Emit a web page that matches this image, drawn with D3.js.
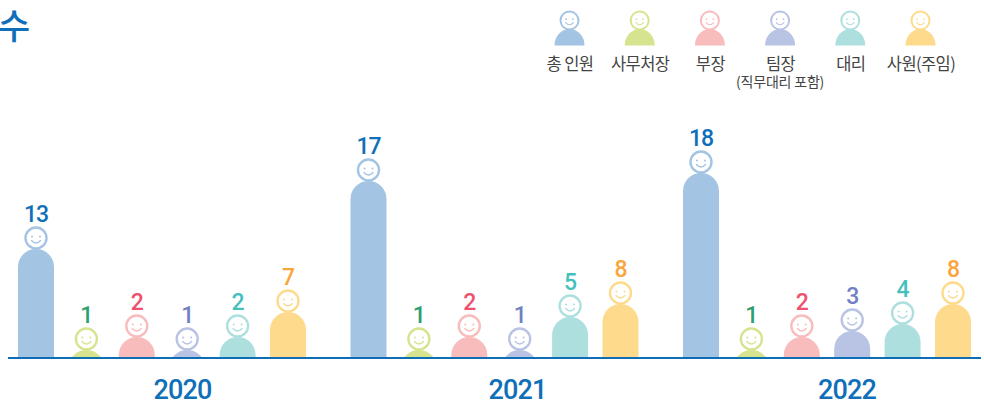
<!DOCTYPE html>
<html><head><meta charset="utf-8">
<script src="https://cdn.jsdelivr.net/npm/d3@7"></script>
<style>html,body{margin:0;padding:0;background:#fff;overflow:hidden}svg{display:block}
text{font-family:Roboto,"Noto Sans CJK KR",sans-serif}</style></head><body>
<script>
const years = ["2020","2021","2022"];
const roles = ["총 인원","사무처장","부장","팀장","대리","사원(주임)"];
const roleNote = ["","","","(직무대리 포함)","",""];
const values2020 = [13,1,2,1,2,7];
const values2021 = [17,1,2,1,5,8];
const values2022 = [18,1,2,3,4,8];
const barColors = ["#a3c4e3","#d6e48f","#f9bcbc","#b9c3e3","#aedfdf","#fedb8c"];
const labelColors = ["#0f6fb8","#2f9e6e","#f0506e","#6f80c4","#45c0bd","#f9a63c"];
const titleFragment = "수";
// the reference's pictogram heights are not proportional: a piecewise scale reproduces them
const scaleValues = [0,1,2,3,4,5,7,8,13,17,18];
const scaleHeights = [0,7,20,26,33,40,45,53,108,176,184];

const series = [values2020,values2021,values2022];
const W=984,H=405,baseY=357,barW=36,r=18;
const svg=d3.select("body").append("svg").attr("width",W).attr("height",H);
const hScale=d3.scaleLinear().domain(scaleValues).range(scaleHeights);
const yearX=d3.scalePoint().domain(years).range([36,701]);
const roleX=d3.scalePoint().domain(d3.range(roles.length)).range([0,252]);
const legendX=d3.scalePoint().domain(roles).range([569.5,920.5]);

svg.append("defs").append("clipPath").attr("id","base")
  .append("rect").attr("x",0).attr("y",0).attr("width",W).attr("height",baseY);

function face(g,cx,cy,R,sw,col){
  g.append("circle").attr("cx",cx).attr("cy",cy).attr("r",R).attr("fill","#fff").attr("stroke",col).attr("stroke-width",sw);
  const k=R/10.5;
  [-1,1].forEach(s=>g.append("circle").attr("cx",cx+s*4*k).attr("cy",cy-1.5*k).attr("r",1*k).attr("fill",col));
  g.append("path").attr("d",`M${cx-4.5*k},${cy+2.5*k}Q${cx},${cy+7.5*k} ${cx+4.5*k},${cy+2.5*k}`)
    .attr("fill","none").attr("stroke",col).attr("stroke-width",1.3*k).attr("stroke-linecap","round");
}

// title fragment
svg.append("text").attr("x",-2).attr("y",38.5).attr("font-size",35).attr("font-weight",500)
  .attr("fill","#0f6fb8").style("font-family",'"Noto Sans CJK KR"').text(titleFragment);

// legend
roles.forEach((role,i)=>{
  const cx=legendX(role);
  const g=svg.append("g");
  g.append("path").attr("d",`M${cx-15},45.5A15,16.5 0 0 1 ${cx+15},45.5Z`).attr("fill",barColors[i]);
  face(g,cx,20.5,9,2,barColors[i]);
  g.append("text").attr("x",cx+0.5).attr("y",69.5).attr("text-anchor","middle").attr("font-size",16.5)
    .attr("fill","#444").style("font-family",'"Noto Sans CJK KR"').style("letter-spacing","-0.6px").text(role);
  if(roleNote[i]) g.append("text").attr("x",cx).attr("y",87).attr("text-anchor","middle").attr("font-size",14)
    .attr("fill","#444").style("font-family",'"Noto Sans CJK KR"').style("letter-spacing","-0.2px").text(roleNote[i]);
});

// bars
years.forEach((yr,yi)=>{
  const g=svg.append("g");
  series[yi].forEach((v,i)=>{
    const cx=yearX(yr)+roleX(i), top=baseY-hScale(v);
    g.append("rect").attr("x",cx-barW/2).attr("y",top).attr("width",barW).attr("height",hScale(v)+40)
      .attr("rx",r).attr("ry",r).attr("fill",barColors[i]).attr("clip-path","url(#base)");
    face(g,cx,top-11,10.5,2.4,barColors[i]);
    g.append("text").attr("x",cx).attr("y",top-27).attr("text-anchor","middle").attr("font-size",23)
      .attr("font-weight",500).style("letter-spacing","-1px").attr("fill",labelColors[i]).text(v);
  });
  g.append("text").attr("x",[182.5,517.5,847][yi]).attr("y",399).attr("text-anchor","middle")
    .attr("font-size",27).attr("font-weight",500).style("letter-spacing","-0.8px").attr("fill","#0f6fb8").text(yr);
});

svg.append("line").attr("x1",8).attr("x2",981).attr("y1",358).attr("y2",358).attr("stroke","#0f6db5").attr("stroke-width",2);
</script></body></html>
